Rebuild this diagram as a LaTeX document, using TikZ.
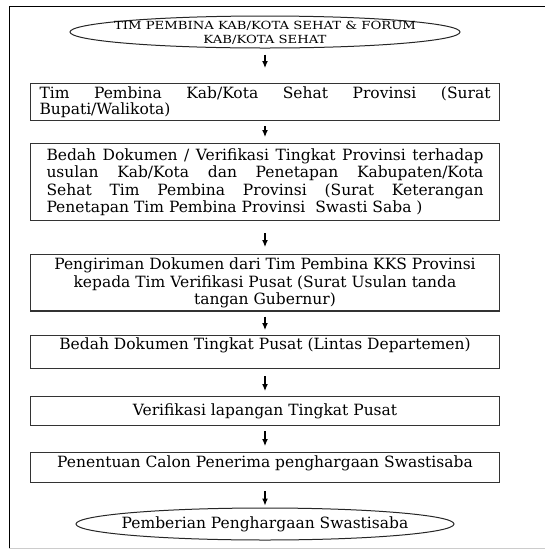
\documentclass[tikz,border=0pt]{standalone}
\usepackage{fontspec}
\setmainfont{DejaVu Serif}
\newfontfamily\capsfont{DejaVu Serif}[FakeStretch=1.18]
\usetikzlibrary{shapes.geometric, arrows.meta, positioning}
\tikzset{
    stepbox/.style={rectangle, draw=black!80, line width=1.3pt, minimum width=469pt,
                    anchor=north, font=\fontsize{15.5}{17.6}\selectfont, inner xsep=5pt, inner ysep=3pt},
    endbox/.style={ellipse, draw=black!85, line width=1pt, inner sep=0pt},
    endtext/.style={align=center, inner sep=0pt},
    arrow/.style={-{Latex[length=7pt, width=6pt]}, line width=1.2pt},
}

\begin{document}
\begin{tikzpicture}[x=1pt, y=-1pt]
    \useasboundingbox (0,0) rectangle (545,550);
    % frame
    \draw[line width=1pt] (9,548) -- (9,6) -- (545,6);
    \draw[black!20, line width=1pt] (9,548) -- (545,548);

    \node[endbox, minimum width=390pt, minimum height=32pt] (tim) at (265,32) {};
    \node[endtext, font=\capsfont\fontsize{11.2}{14}\selectfont] (timtext) at (265,33)
        {TIM PEMBINA KAB/KOTA SEHAT \& FORUM\\KAB/KOTA SEHAT};
    \node[stepbox, minimum height=36pt, text width=451pt, align=justify, font=\fontsize{15.5}{16}\selectfont] (prov) at (265,83)
        {Tim Pembina Kab/Kota Sehat Provinsi (Surat\linebreak Bupati/Walikota)};
    \node[stepbox, minimum height=77pt, text width=437pt, align=justify] (bedah) at (265,143)
        {Bedah Dokumen / Verifikasi Tingkat Provinsi terhadap\linebreak usulan Kab/Kota dan Penetapan Kabupaten/Kota\linebreak Sehat Tim Pembina Provinsi (Surat Keterangan\linebreak Penetapan Tim Pembina Provinsi~ Swasti Saba )};
    \node[stepbox, minimum height=54pt, align=center] (kirim) at (265,254)
        {Pengiriman Dokumen dari Tim Pembina KKS Provinsi\\kepada Tim Verifikasi Pusat (Surat Usulan tanda\\tangan Gubernur)};
    \node[stepbox, text height=11pt, text depth=16pt] (pusat) at (265,335)
        {Bedah Dokumen Tingkat Pusat (Lintas Departemen)};
    \node[stepbox, minimum height=29pt] (lapang) at (265,396)
        {Verifikasi lapangan Tingkat Pusat};
    \node[stepbox, text height=12pt, text depth=12pt] (calon) at (265,452)
        {Penentuan Calon Penerima penghargaan Swastisaba};
    \node[endbox, minimum width=378pt, minimum height=32pt] (beri) at (265,524) {};
    \node[endtext, font=\fontsize{15.5}{17.6}\selectfont] (beritext) at (beri.center)
        {Pemberian Penghargaan Swastisaba};

    \draw[arrow, shorten <=6pt, shorten >=15pt] (tim) -- (prov);
    \draw[arrow, shorten <=5pt, shorten >=6pt] (prov) -- (bedah);
    \draw[arrow, shorten <=12pt, shorten >=7pt] (bedah) -- (kirim);
    \draw[arrow, shorten <=5pt, shorten >=5pt] (kirim) -- (pusat);
    \draw[arrow, shorten <=7pt, shorten >=5pt] (pusat) -- (lapang);
    \draw[arrow, shorten <=5pt, shorten >=6pt] (lapang) -- (calon);
    \draw[arrow, shorten <=8pt, shorten >=2pt] (calon) -- (beri);
\end{tikzpicture}
\end{document}
